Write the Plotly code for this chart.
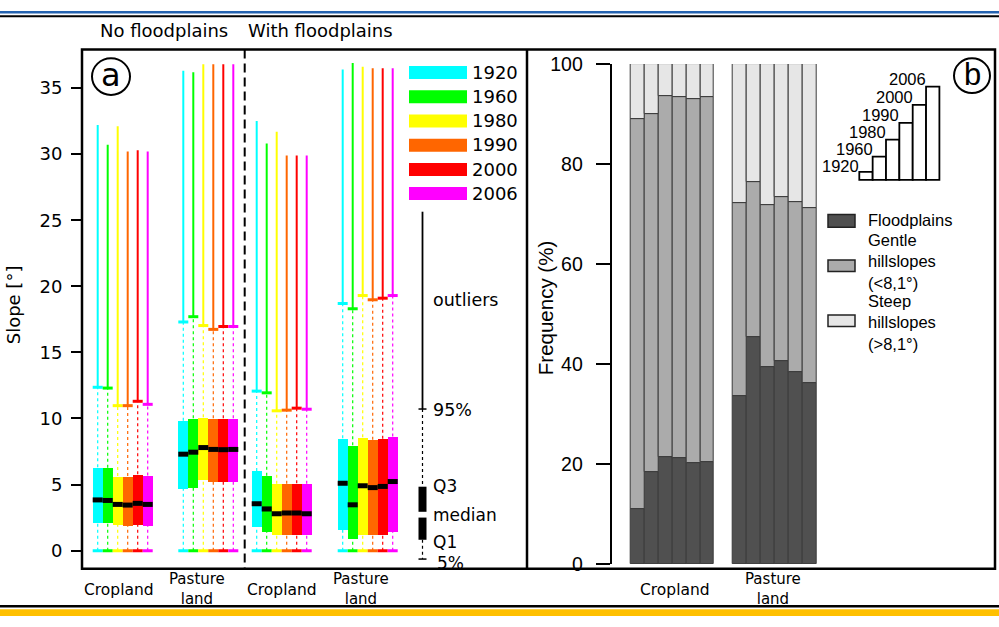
import plotly.graph_objects as go

W, H = 999, 627


def px(x):
    return x / W


def py(y):
    return 1 - y / H


# ---------------- data ----------------
YEARS = ["1920", "1960", "1980", "1990", "2000", "2006"]
COLORS = ["#00ffff", "#00ff00", "#ffff00", "#ff6600", "#ff0000", "#ff00ff"]

HALF_TITLES = ["No floodplains", "With floodplains"]
GROUP_LABELS_A = ["Cropland", "Pasture land", "Cropland", "Pasture land"]

# Panel a: slope [deg] statistics per year (5%, Q1, median, Q3, 95%, max)
crop_nofl_p05 = [0, 0, 0, 0, 0, 0]
crop_nofl_q1 = [2.09, 2.09, 1.94, 1.90, 1.94, 1.90]
crop_nofl_med = [3.84, 3.80, 3.50, 3.45, 3.58, 3.50]
crop_nofl_q3 = [6.32, 6.28, 5.64, 5.64, 5.79, 5.69]
crop_nofl_p95 = [12.36, 12.30, 10.97, 10.97, 11.30, 11.07]
crop_nofl_max = [32.2, 30.7, 32.1, 30.2, 30.3, 30.2]

past_nofl_p05 = [0, 0, 0, 0, 0, 0]
past_nofl_q1 = [4.72, 4.77, 5.40, 5.26, 5.26, 5.26]
past_nofl_med = [7.30, 7.45, 7.80, 7.66, 7.64, 7.66]
past_nofl_q3 = [9.83, 10.02, 10.10, 10.02, 10.02, 10.02]
past_nofl_p95 = [17.30, 17.70, 17.03, 16.74, 16.96, 16.96]
past_nofl_max = [36.3, 36.2, 36.8, 36.8, 36.8, 36.8]

crop_wfl_p05 = [0, 0, 0, 0, 0, 0]
crop_wfl_q1 = [1.85, 1.41, 1.21, 1.21, 1.21, 1.21]
crop_wfl_med = [3.55, 3.16, 2.80, 2.85, 2.85, 2.80]
crop_wfl_q3 = [6.03, 5.66, 5.06, 5.06, 5.10, 5.06]
crop_wfl_p95 = [12.07, 11.94, 10.58, 10.63, 10.78, 10.70]
crop_wfl_max = [32.5, 30.8, 31.7, 29.9, 29.9, 29.9]

past_wfl_p05 = [0, 0, 0, 0, 0, 0]
past_wfl_q1 = [1.60, 0.88, 1.24, 1.21, 1.21, 1.41]
past_wfl_med = [5.10, 3.47, 4.91, 4.77, 4.86, 5.23]
past_wfl_q3 = [8.51, 7.98, 8.58, 8.39, 8.47, 8.64]
past_wfl_p95 = [18.70, 18.30, 19.30, 18.98, 19.10, 19.30]
past_wfl_max = [36.4, 36.9, 36.6, 36.5, 36.5, 36.5]

SLOPE_TICKS = [0, 5, 10, 15, 20, 25, 30, 35]

# Panel b: frequency (%) of slope classes per year
GROUP_LABELS_B = ["Cropland", "Pasture land"]
crop_flood = [10.9, 18.3, 21.3, 21.2, 20.2, 20.3]
crop_gentle = [78.0, 71.7, 72.3, 72.2, 72.7, 73.1]
crop_steep = [11.1, 10.0, 6.4, 6.6, 7.1, 6.6]
past_flood = [33.6, 45.4, 39.3, 40.6, 38.3, 36.2]
past_gentle = [38.6, 30.9, 32.5, 32.7, 34.1, 34.9]
past_steep = [27.8, 23.7, 28.2, 26.7, 27.6, 28.9]
CLASS_NAMES = ["Floodplains", "Gentle<br>hillslopes<br>(&lt;8,1°)", "Steep<br>hillslopes<br>(&gt;8,1°)"]
CLASS_COLORS = ["#505050", "#ababab", "#e6e6e6"]
FREQ_TICKS = [0, 20, 40, 60, 80, 100]

# ---------------- layout constants ----------------
FONT_A = "DejaVu Sans"
FONT_B = "Liberation Sans"
GROUP_CENTER_A = [3.97, 12.53, 19.87, 28.47]   # x-axis units (1 unit = one box)
GROUP_START_B = [0.0, 7.35]                     # x-axis units (1 unit = one bar)

groups_a = [
    (crop_nofl_p05, crop_nofl_q1, crop_nofl_med, crop_nofl_q3, crop_nofl_p95, crop_nofl_max),
    (past_nofl_p05, past_nofl_q1, past_nofl_med, past_nofl_q3, past_nofl_p95, past_nofl_max),
    (crop_wfl_p05, crop_wfl_q1, crop_wfl_med, crop_wfl_q3, crop_wfl_p95, crop_wfl_max),
    (past_wfl_p05, past_wfl_q1, past_wfl_med, past_wfl_q3, past_wfl_p95, past_wfl_max),
]

fig = go.Figure()

# ---------- panel a: boxes ----------
med_x, med_y = [], []
for i, (yr, col) in enumerate(zip(YEARS, COLORS)):
    xs, bases, heights = [], [], []
    dot_x, dot_y, sol_x, sol_y, cap_x, cap_y = [], [], [], [], [], []
    for g, stats in enumerate(groups_a):
        p05, q1, med, q3, p95, mx = (s[i] for s in stats)
        x = GROUP_CENTER_A[g] + (i - 2.5)
        xs.append(x)
        bases.append(q1)
        heights.append(q3 - q1)
        dot_x += [x, x, None, x, x, None]
        dot_y += [p05, q1, None, q3, p95, None]
        sol_x += [x, x, None]
        sol_y += [p95, mx, None]
        cap_x += [x - 0.5, x + 0.5, None, x - 0.5, x + 0.5, None]
        cap_y += [p95, p95, None, p05, p05, None]
        med_x += [x - 0.5, x + 0.5, None]
        med_y += [med, med, None]
    fig.add_trace(go.Scatter(x=dot_x, y=dot_y, mode="lines", xaxis="x", yaxis="y",
                             line=dict(color=col, width=1.2, dash="dot"), hoverinfo="skip"))
    fig.add_trace(go.Scatter(x=sol_x, y=sol_y, mode="lines", xaxis="x", yaxis="y",
                             line=dict(color=col, width=2), hoverinfo="skip"))
    fig.add_trace(go.Scatter(x=cap_x, y=cap_y, mode="lines", xaxis="x", yaxis="y",
                             line=dict(color=col, width=3), hoverinfo="skip"))
    fig.add_trace(go.Bar(x=xs, y=heights, base=bases, width=1.0, name=yr,
                         marker=dict(color=col, line=dict(width=0)),
                         xaxis="x", yaxis="y"))
fig.add_trace(go.Scatter(x=med_x, y=med_y, mode="lines", xaxis="x", yaxis="y",
                         line=dict(color="black", width=5), hoverinfo="skip"))

# ---------- panel b: stacked bars ----------
cls_data = [(crop_flood, past_flood), (crop_gentle, past_gentle), (crop_steep, past_steep)]
bx = [GROUP_START_B[0] + i for i in range(6)] + [GROUP_START_B[1] + i for i in range(6)]
cum = [0.0] * 12
for name, col, (c_vals, p_vals) in zip(CLASS_NAMES, CLASS_COLORS, cls_data):
    vals = list(c_vals) + list(p_vals)
    fig.add_trace(go.Bar(x=bx, y=vals, base=list(cum), width=1.0, name=name,
                         marker=dict(color=col, line=dict(color="#3a3a3a", width=1)),
                         xaxis="x2", yaxis="y2"))
    cum = [c + v for c, v in zip(cum, vals)]

shapes = []
ann = []


def text(t, x, y, size, family, xanchor="center", yanchor="middle", angle=0, align="center"):
    ann.append(dict(text=t, x=px(x), y=py(y), xref="paper", yref="paper",
                    xanchor=xanchor, yanchor=yanchor, showarrow=False, textangle=angle,
                    align=align, borderpad=0,
                    font=dict(size=size, family=family, color="black")))


def line(x0, y0, x1, y1, width=2, color="black", dash=None):
    d = dict(type="line", xref="paper", yref="paper", x0=px(x0), y0=py(y0),
             x1=px(x1), y1=py(y1), line=dict(color=color, width=width))
    if dash:
        d["line"]["dash"] = dash
    shapes.append(d)


def rect(x0, y0, x1, y1, fill, lcolor=None, lwidth=0):
    shapes.append(dict(type="rect", xref="paper", yref="paper", x0=px(x0), y0=py(y1),
                       x1=px(x1), y1=py(y0), fillcolor=fill,
                       line=dict(color=lcolor or fill, width=lwidth)))


# page decorations
rect(0, 0, 999, 2.5, "#2563b0")
line(0, 5.5, 999, 5.5, width=2)
line(0, 616.8, 999, 616.8, width=2.5)
rect(0, 620, 999, 627, "#ffc000")

# frames
shapes.append(dict(type="rect", xref="paper", yref="paper", x0=px(82), x1=px(995),
                   y0=py(578), y1=py(40), line=dict(color="black", width=2.5)))
line(527, 40, 527, 578, width=2.5)
line(244.7, 40, 244.7, 578, width=2, dash="9px,5px")

# panel a titles
text(HALF_TITLES[0], 164, 20, 18, FONT_A)
text(HALF_TITLES[1], 320, 20, 18, FONT_A)
text("Slope [°]", 13, 305, 18, FONT_A, angle=-90)

# circled letters
shapes.append(dict(type="circle", xref="paper", yref="paper", x0=px(92), x1=px(130),
                   y0=py(87), y1=py(49), line=dict(color="black", width=2)))
text("a", 111, 66, 32, FONT_A)
shapes.append(dict(type="circle", xref="paper", yref="paper", x0=px(954), x1=px(990),
                   y0=py(85), y1=py(49), line=dict(color="black", width=2)))
text("b", 972, 66, 31, FONT_B)

# year legend (panel a)
for i, (yr, col) in enumerate(zip(YEARS, COLORS)):
    y0 = 57 + i * 25.1
    rect(409, y0, 467, y0 + 13.5, col)
    text(yr, 471, y0 + 6.5, 18, FONT_A, xanchor="left")

# boxplot key (panel a)
kx = 422.5
line(kx, 208, kx, 412.5, width=1.8)
line(kx - 4, 412.5, kx + 4, 412.5, width=1.5)
line(kx, 412.5, kx, 493, width=1.2, dash="dot")
rect(kx - 4, 493, kx + 4, 519, "black")
rect(kx - 4, 525, kx + 4, 548, "black")
line(kx, 548, kx, 568, width=1.2, dash="dot")
line(kx - 4, 568, kx + 4, 568, width=1.5)
text("outliers", 432, 300, 17.5, FONT_A, xanchor="left")
text("95%", 432, 413, 17.5, FONT_A, xanchor="left")
text("Q3", 432, 492, 17, FONT_A, xanchor="left")
text("median", 432, 522, 17, FONT_A, xanchor="left")
text("Q1", 432, 550, 17, FONT_A, xanchor="left")
text("5%", 436, 572, 17, FONT_A, xanchor="left")

# category labels under panels
for cx, lab in zip([118.5, 197, 281.5, 361], GROUP_LABELS_A):
    if lab == "Cropland":
        text(lab, cx, 600, 15.5, FONT_A)
    else:
        text(lab.replace(" ", "<br>"), cx, 599, 15, FONT_A)
for cx, lab in zip([675, 773], GROUP_LABELS_B):
    if lab == "Cropland":
        text(lab, cx, 600, 15.5, FONT_A)
    else:
        text(lab.replace(" ", "<br>"), cx, 599, 15, FONT_A)

# panel b axis title
text("Frequency (%)", 545, 308, 20.5, FONT_B, angle=-90)

# year staircase key (panel b)
stair_tops = [166.7, 151, 133.3, 116, 97.3, 78.3]
stair_label_gap = [4.5, 2.5, 2.5, 2.5, 2.5, 2.5]
for i, yr in enumerate(YEARS):
    x0 = 859.3 + i * 13.35
    shapes.append(dict(type="rect", xref="paper", yref="paper", x0=px(x0), x1=px(x0 + 13.35),
                       y0=py(175), y1=py(stair_tops[i]), fillcolor="white",
                       line=dict(color="black", width=1.8)))
    text(yr, x0 + 1, stair_tops[i] + stair_label_gap[i], 16.5, FONT_B,
         xanchor="right", yanchor="bottom")

# class legend (panel b)
leg_rows = [(211, 224, 217), (258, 270, 260), (315, 327, 323)]
for name, col, (y0, y1, ty) in zip(CLASS_NAMES, CLASS_COLORS, leg_rows):
    rect(828, y0, 855, y1, col, "#222222", 1.5)
    text(name, 867, ty, 16.5, FONT_B, xanchor="left", align="left")

fig.update_layout(
    width=W, height=H,
    margin=dict(l=0, r=0, t=0, b=0),
    paper_bgcolor="white", plot_bgcolor="rgba(0,0,0,0)",
    showlegend=False, barmode="overlay", bargap=0,
    shapes=shapes, annotations=ann,
    xaxis=dict(domain=[px(83), px(527)], range=[0, 44.4], visible=False, fixedrange=True),
    yaxis=dict(domain=[py(578), py(40)], range=[-1.365, 37.905], anchor="x",
               tickvals=SLOPE_TICKS, ticks="outside", ticklen=11, tickwidth=2,
               tickcolor="black", showline=False, showgrid=False, zeroline=False,
               ticklabelstandoff=5,
               tickfont=dict(family=FONT_A, size=18, color="black")),
    xaxis2=dict(domain=[px(611.7), px(994)], range=[-1.87, 25.63], visible=False,
                anchor="y2", fixedrange=True),
    yaxis2=dict(domain=[py(573), py(55)], range=[0, 100], anchor="x2",
                tickvals=FREQ_TICKS, ticks="outside", ticklen=14, tickwidth=2,
                tickcolor="black", showline=True, linecolor="black", linewidth=2,
                showgrid=False, zeroline=False, ticklabelstandoff=9,
                tickfont=dict(family=FONT_B, size=19.5, color="black")),
)

fig.write_html("out.html")
